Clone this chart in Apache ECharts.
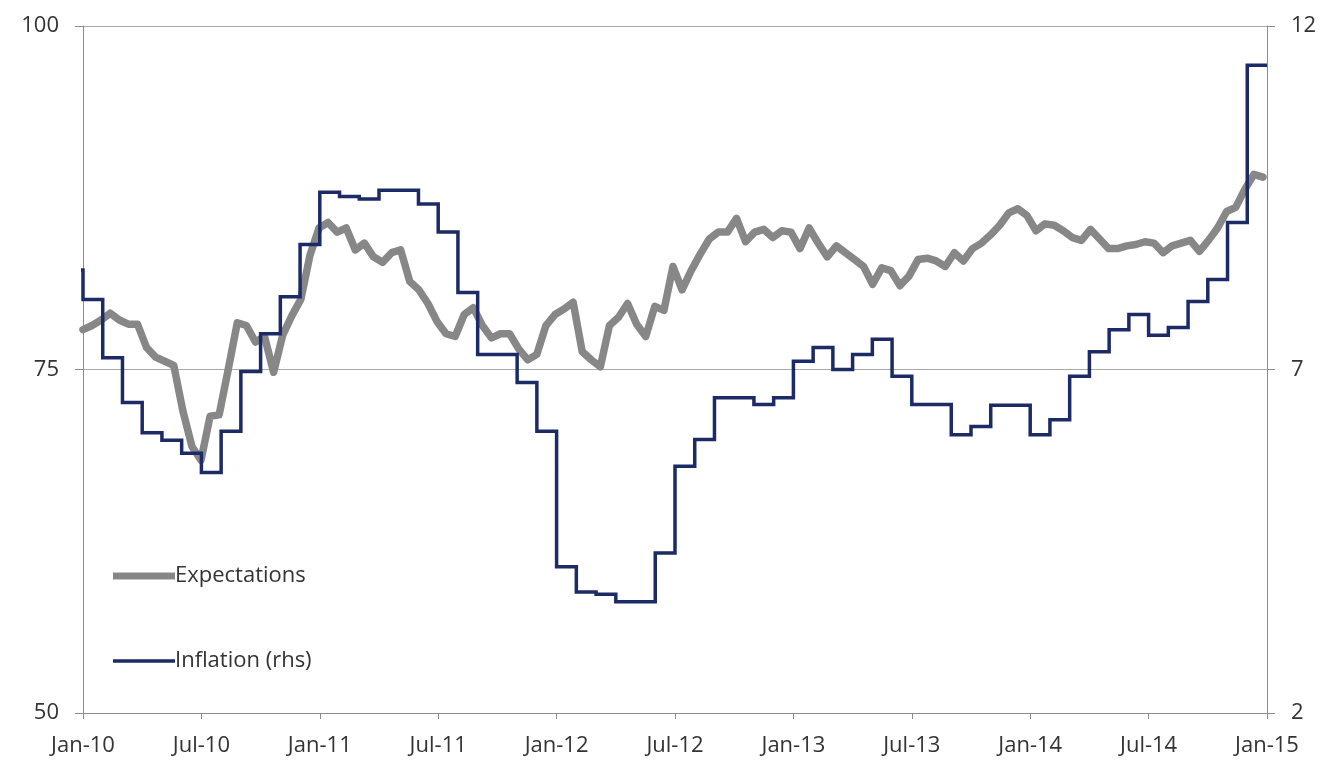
<!DOCTYPE html>
<html>
<head>
<meta charset="utf-8">
<script src="https://cdn.jsdelivr.net/npm/echarts@6/dist/echarts.min.js"></script>
<style>
  html, body { margin: 0; padding: 0; background: #ffffff; }
  #chart { width: 1324px; height: 765px; }
</style>
</head>
<body>
<div id="chart"></div>
<script>
// x-axis labels, one every six months
const tickLabels = ['Jan-10', 'Jul-10', 'Jan-11', 'Jul-11', 'Jan-12', 'Jul-12',
                    'Jan-13', 'Jul-13', 'Jan-14', 'Jul-14', 'Jan-15'];

// Monthly inflation (rhs), Dec-09 through Dec-14
const inflation = [
  8.45,
  8.02, 7.17, 6.52, 6.08, 5.97, 5.78, 5.50, 6.10, 6.97, 7.52, 8.06, 8.82,
  9.58, 9.52, 9.48, 9.61, 9.61, 9.41, 9.00, 8.12, 7.22, 7.22, 6.81, 6.10,
  4.13, 3.76, 3.73, 3.62, 3.62, 4.33, 5.59, 5.98, 6.59, 6.59, 6.49, 6.59,
  7.12, 7.32, 7.00, 7.22, 7.44, 6.90, 6.49, 6.49, 6.05, 6.17, 6.48, 6.48,
  6.05, 6.27, 6.90, 7.26, 7.58, 7.80, 7.50, 7.61, 7.99, 8.31, 9.14, 11.43
];

// Expectations index, fortnightly readings from 1 Jan 2010
const expectations = [
  77.9, 78.2, 78.6, 79.1, 78.6, 78.3, 78.3, 76.6, 75.9, 75.6,
  75.3, 72.0, 69.4, 68.4, 71.6, 71.7, 75.0, 78.4, 78.2, 77.0,
  77.4, 74.8, 77.5, 78.9, 80.1, 83.3, 85.3, 85.7, 85.0, 85.3,
  83.7, 84.2, 83.2, 82.8, 83.5, 83.7, 81.4, 80.8, 79.8, 78.5,
  77.6, 77.4, 79.0, 79.5, 78.2, 77.3, 77.6, 77.6, 76.5, 75.7,
  76.1, 78.2, 79.0, 79.4, 79.9, 76.3, 75.7, 75.2, 78.2, 78.8,
  79.8, 78.3, 77.4, 79.6, 79.3, 82.5, 80.8, 82.2, 83.4, 84.5,
  85.0, 85.0, 86.0, 84.3, 85.0, 85.2, 84.6, 85.1, 85.0, 83.8,
  85.3, 84.2, 83.2, 84.0, 83.5, 83.0, 82.5, 81.2, 82.4, 82.2,
  81.1, 81.8, 83.0, 83.1, 82.9, 82.5, 83.5, 82.9, 83.8, 84.2,
  84.8, 85.5, 86.4, 86.7, 86.2, 85.1, 85.6, 85.5, 85.1, 84.6,
  84.4, 85.2, 84.5, 83.8, 83.8, 84.0, 84.1, 84.3, 84.2, 83.5,
  84.0, 84.2, 84.4, 83.6, 84.4, 85.3, 86.5, 86.8, 88.1, 89.2,
  89.0
];

// x is measured in months since Jan-10
const DAYS_PER_MONTH = 365.25 / 12;
const EXP_STEP_DAYS = 14;

const inflationData = inflation.map((v, i) => [i - 1, v]);
inflationData.push([60, inflation[inflation.length - 1]]); // close the last monthly step
const expectationsData = expectations.map((v, k) => [k * EXP_STEP_DAYS / DAYS_PER_MONTH, v]);

const FONT = "'Open Sans', 'Liberation Sans', sans-serif";
const TEXT = '#333333';
const AXIS = '#8c8c8c';
const GREY = '#878787';
const NAVY = '#1c2a66';

const chart = echarts.init(document.getElementById('chart'), null, { renderer: 'canvas' });

const legendText = { fontFamily: FONT, fontSize: 22, color: TEXT, padding: [0, 0, 0, -5] };

chart.setOption({
  animation: false,
  backgroundColor: '#ffffff',
  grid: { left: 83, right: 57, top: 26, bottom: 52, containLabel: false },
  legend: [
    {
      data: [{ name: 'Expectations', icon: 'rect' }],
      left: 108, top: 560,
      itemWidth: 62, itemHeight: 7, itemGap: 0,
      textStyle: legendText
    },
    {
      data: [{ name: 'Inflation (rhs)', icon: 'rect' }],
      left: 108, top: 645,
      itemWidth: 62, itemHeight: 3.5, itemGap: 0,
      textStyle: legendText
    }
  ],
  xAxis: {
    type: 'value',
    min: 0, max: 60, interval: 6,
    axisLine: { show: true, lineStyle: { color: AXIS, width: 1 } },
    axisTick: { show: true, length: 6, inside: false, lineStyle: { color: AXIS } },
    splitLine: { show: false },
    axisLabel: {
      margin: 22,
      fontFamily: FONT, fontSize: 22, color: TEXT,
      formatter: v => tickLabels[Math.round(v / 6)] || ''
    }
  },
  yAxis: [
    {
      type: 'value',
      min: 50, max: 100, interval: 25,
      position: 'left',
      axisLine: { show: true, lineStyle: { color: AXIS, width: 1 } },
      axisTick: { show: true, length: 8, lineStyle: { color: AXIS } },
      splitLine: { show: true, lineStyle: { color: '#a8a8a8', width: 1 } },
      axisLabel: { margin: 24, fontFamily: FONT, fontSize: 22, color: TEXT }
    },
    {
      type: 'value',
      min: 2, max: 12, interval: 5,
      position: 'right',
      axisLine: { show: true, lineStyle: { color: AXIS, width: 1 } },
      axisTick: { show: true, length: 8, lineStyle: { color: AXIS } },
      splitLine: { show: false },
      axisLabel: { margin: 24, fontFamily: FONT, fontSize: 22, color: TEXT }
    }
  ],
  series: [
    {
      name: 'Expectations',
      type: 'line',
      yAxisIndex: 0,
      data: expectationsData,
      symbol: 'none',
      smooth: false,
      lineStyle: { color: GREY, width: 7.5, cap: 'round', join: 'round' },
      itemStyle: { color: GREY }
    },
    {
      name: 'Inflation (rhs)',
      type: 'line',
      yAxisIndex: 1,
      data: inflationData,
      step: 'end',
      symbol: 'none',
      clip: true,
      lineStyle: { color: NAVY, width: 3.5, join: 'miter' },
      itemStyle: { color: NAVY }
    }
  ]
});
</script>
</body>
</html>
